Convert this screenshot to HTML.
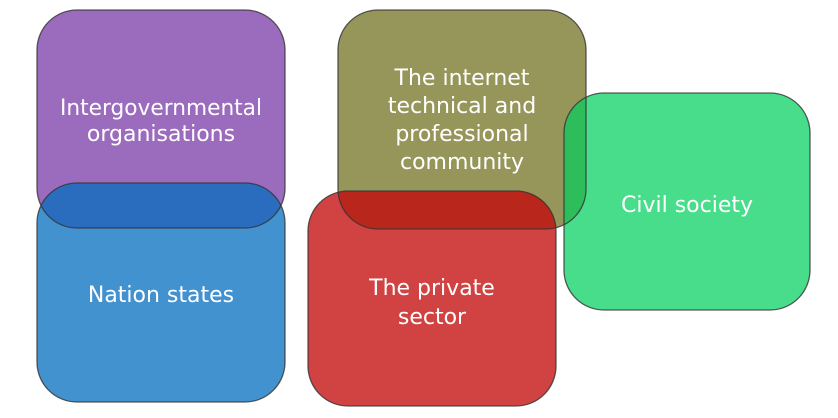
<!DOCTYPE html>
<html><head><style>html,body{margin:0;padding:0;background:#fff}svg{display:block}</style></head><body>
<svg width="838" height="418" xmlns="http://www.w3.org/2000/svg" font-family="'DejaVu Sans','Liberation Sans',sans-serif" font-size="22" fill="#fff">
<defs>
<clipPath id="cp"><rect x="37" y="10" width="248" height="218" rx="40"/></clipPath>
<clipPath id="co"><rect x="338" y="10" width="248" height="219" rx="40"/></clipPath>
</defs>
<rect x="37" y="10" width="248" height="218" rx="40" fill="#9b6bbd"/>
<rect x="338" y="10" width="248" height="219" rx="40" fill="#96955a"/>
<rect x="37" y="183" width="248" height="219" rx="40" fill="#4392d0"/>
<rect x="308" y="191" width="248" height="215" rx="40" fill="#d14242"/>
<rect x="564" y="93" width="246" height="217" rx="40" fill="#48dd8a"/>
<g clip-path="url(#cp)"><rect x="37" y="183" width="248" height="219" rx="40" fill="#2a6dbf"/></g>
<g clip-path="url(#co)"><rect x="308" y="191" width="248" height="215" rx="40" fill="#b8261c"/><rect x="564" y="93" width="246" height="217" rx="40" fill="#2dbd5a"/></g>
<g fill="none" stroke="#333" stroke-width="1.3" stroke-opacity="0.8">
<rect x="37" y="10" width="248" height="218" rx="40"/>
<rect x="338" y="10" width="248" height="219" rx="40"/>
<rect x="37" y="183" width="248" height="219" rx="40"/>
<rect x="308" y="191" width="248" height="215" rx="40"/>
<rect x="564" y="93" width="246" height="217" rx="40"/>
</g>
<g text-anchor="middle">
<text x="161" y="115" textLength="202" lengthAdjust="spacingAndGlyphs">Intergovernmental</text>
<text x="161" y="141">organisations</text>
<text x="462" y="85">The internet</text>
<text x="462" y="113">technical and</text>
<text x="462" y="141">professional</text>
<text x="462" y="169">community</text>
<text x="687" y="212">Civil society</text>
<text x="161" y="302">Nation states</text>
<text x="432" y="295">The private</text>
<text x="432" y="324">sector</text>
</g>
</svg>
</body></html>
